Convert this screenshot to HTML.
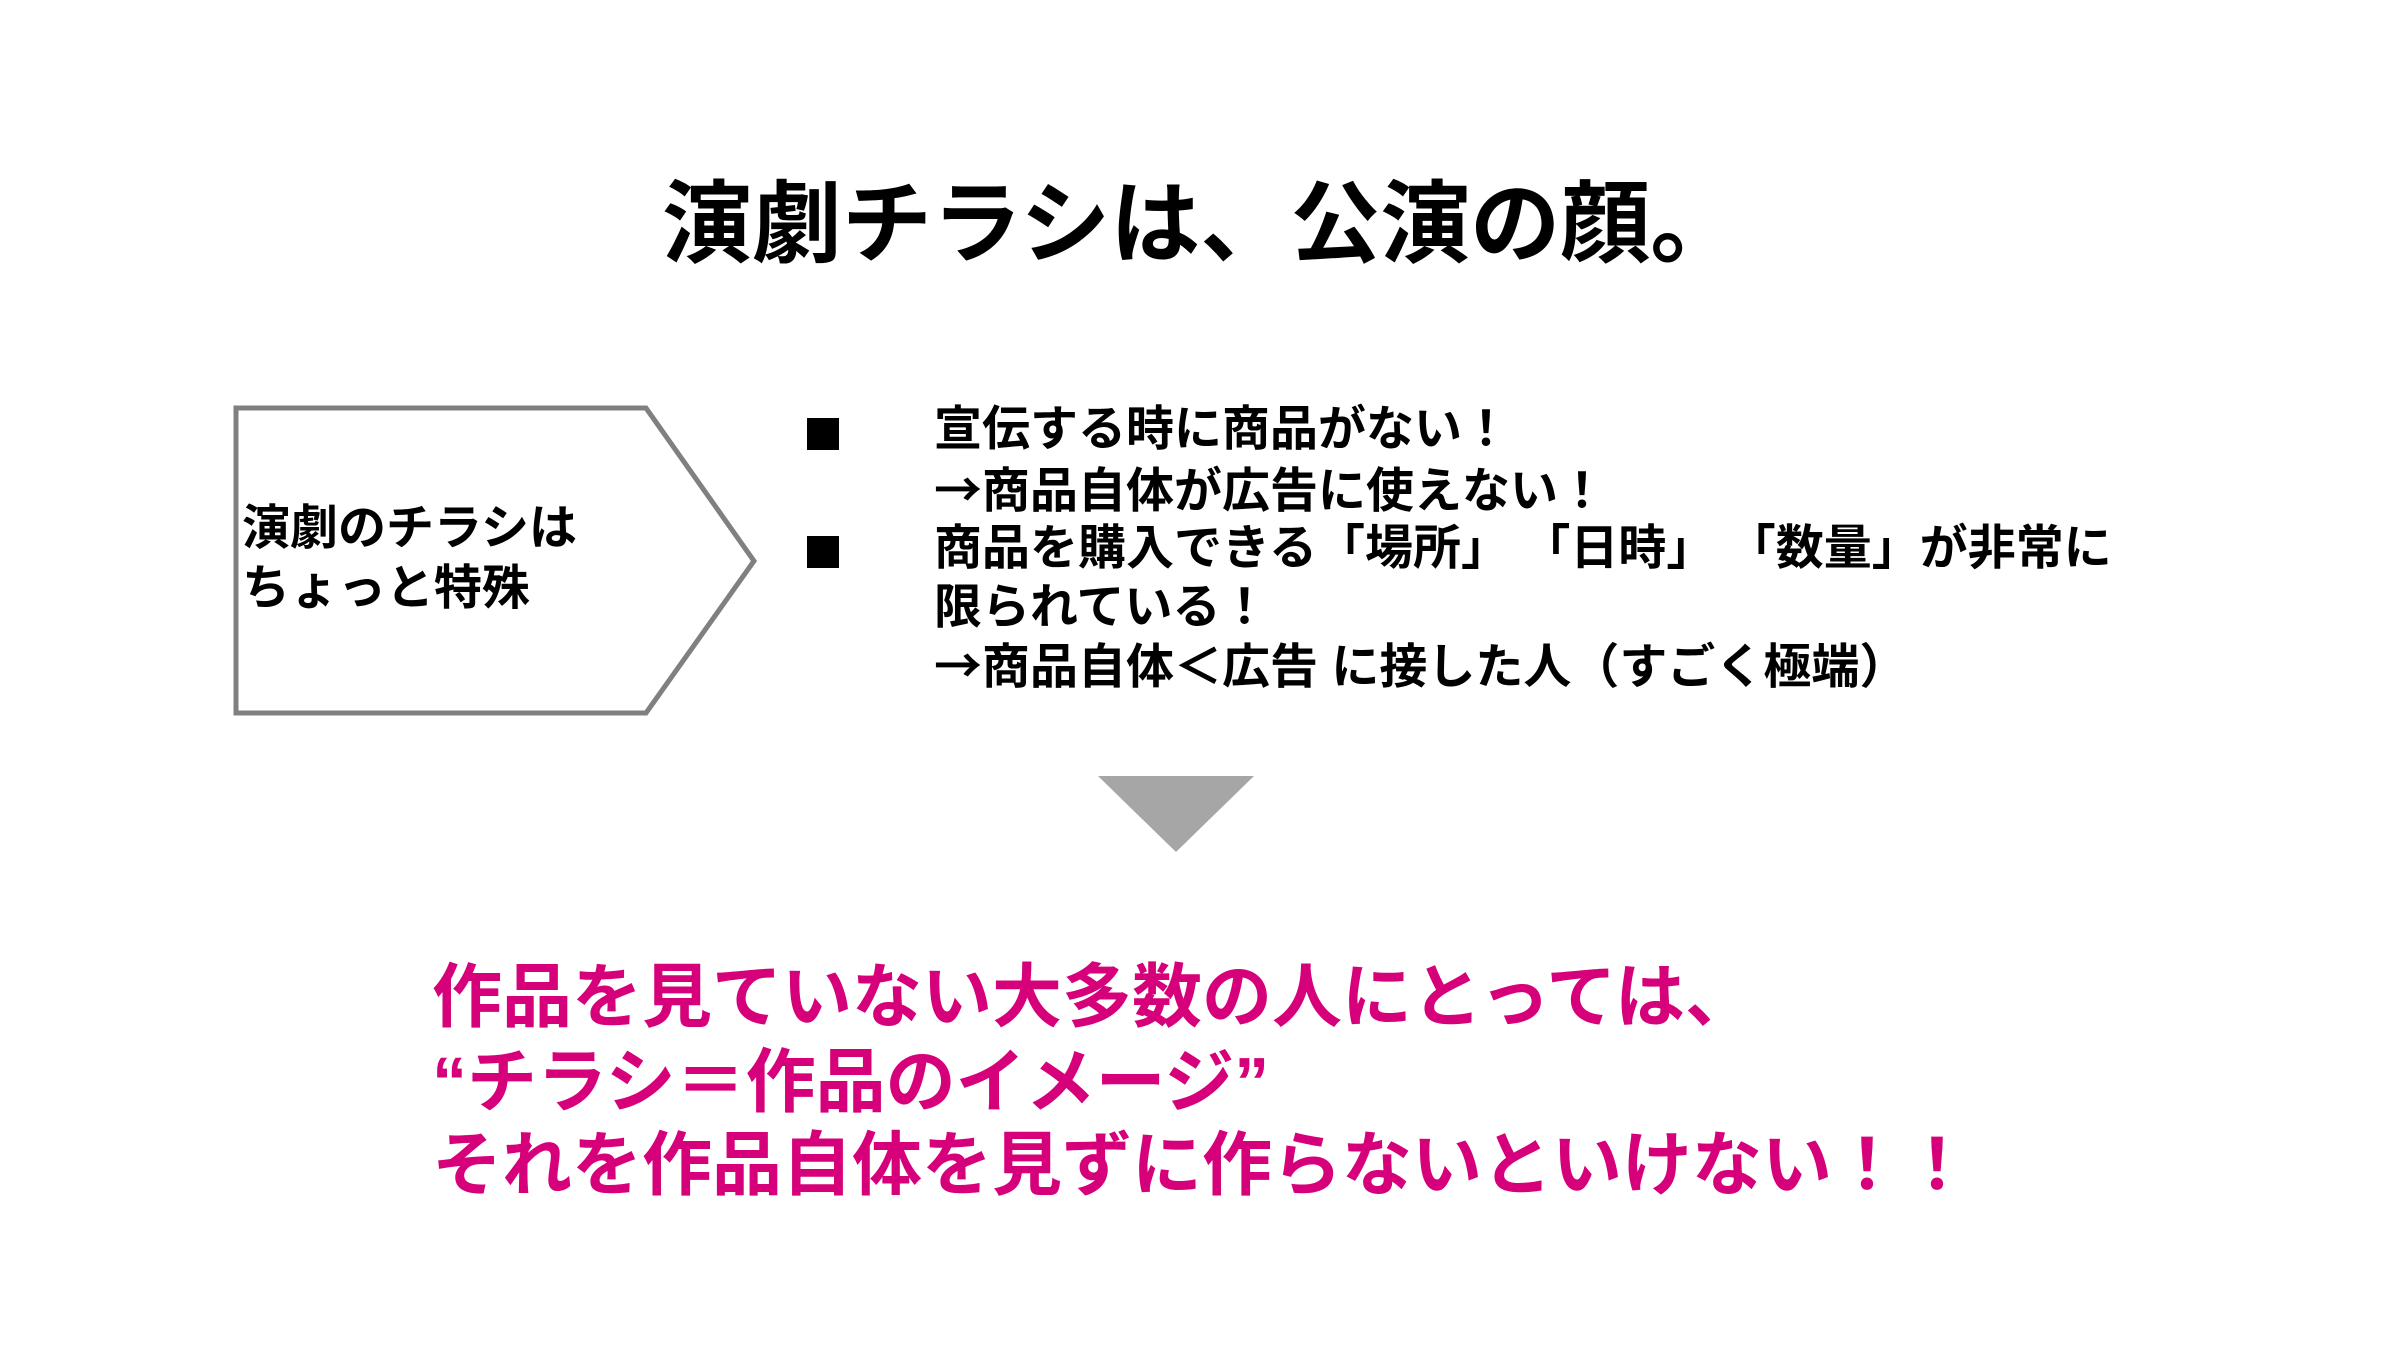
<!DOCTYPE html>
<html><head><meta charset="utf-8"><style>
body{margin:0;width:2400px;height:1350px;background:#fff;position:relative;overflow:hidden;font-family:"Liberation Sans","Noto Sans CJK JP",sans-serif;font-weight:bold;color:#000}
.t{position:absolute;white-space:nowrap;line-height:1}
.j{font-family:"Noto Sans CJK JP",sans-serif}
</style></head><body>
<div class="t" style="left:662px;top:180px;font-size:90px;">演劇チラシは、公演の顔。</div>
<svg style="position:absolute;left:0;top:0" width="2400" height="1350">
<polygon points="236,408 646,408 754,561 646,713 236,713" fill="#fff" stroke="#808080" stroke-width="5"/>
<polygon points="1098,776 1254,776 1176,852" fill="#a6a6a6"/>
</svg>
<div class="t" style="left:242px;top:505px;font-size:48px;">演劇のチラシは</div>
<div class="t" style="left:242px;top:565px;font-size:48px;">ちょっと特殊</div>
<div class="t j" style="left:803px;top:412px;font-size:40px;">■</div>
<div class="t j" style="left:803px;top:530px;font-size:40px;">■</div>
<div class="t" style="left:934px;top:406px;font-size:48px;">宣伝する時に商品がない！</div>
<div class="t" style="left:934px;top:462px;font-size:48px;"><span class="j">→</span>商品自体が広告に使えない！</div>
<div class="t" style="left:934px;top:525px;font-size:48px;">商品を購入できる「場所」 「日時」 「数量」が非常に</div>
<div class="t" style="left:934px;top:584px;font-size:48px;">限られている！</div>
<div class="t" style="left:934px;top:638px;font-size:48px;"><span class="j">→</span>商品自体<span class="j">＜</span>広告 に接した人（すごく極端）</div>
<div class="t" style="left:432px;top:962px;font-size:70px;color:#d6007a;">作品を見ていない大多数の人にとっては、</div>
<div class="t" style="left:432px;top:1047px;font-size:70px;color:#d6007a;">“チラシ＝作品のイメージ”</div>
<div class="t" style="left:432px;top:1130px;font-size:70px;color:#d6007a;">それを作品自体を見ずに作らないといけない！！</div>
</body></html>
